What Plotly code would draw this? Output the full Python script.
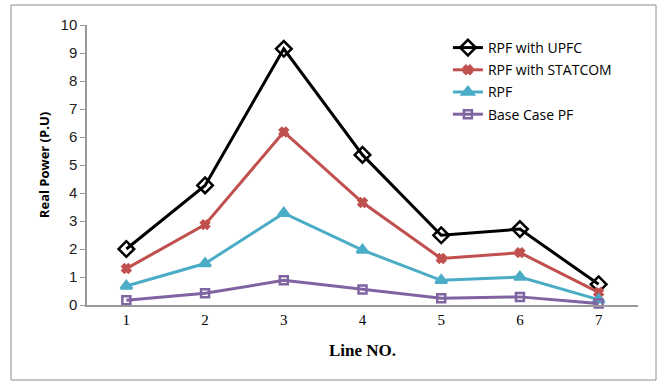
import plotly.graph_objects as go

lines = [1, 2, 3, 4, 5, 6, 7]
upfc = [2.0, 4.27, 9.15, 5.36, 2.49, 2.71, 0.74]
statcom = [1.3, 2.87, 6.18, 3.66, 1.66, 1.87, 0.45]
rpf = [0.68, 1.48, 3.28, 1.96, 0.88, 1.0, 0.19]
base = [0.17, 0.42, 0.88, 0.55, 0.24, 0.29, 0.05]

names = ["RPF with UPFC", "RPF with STATCOM", "RPF", "Base Case PF"]
colors = ["#000000", "#C0504D", "#4BACC6", "#8064A2"]
symbols = ["diamond-open", "x", "triangle-up", "square-open"]
sizes = [12, 7, 10, 8]
series = [upfc, statcom, rpf, base]

fig = go.Figure()
for i, (nm, c, s, sz, ys) in enumerate(zip(names, colors, symbols, sizes, series)):
    fig.add_trace(go.Scatter(
        x=lines, y=ys, name=nm, mode="lines+markers", legendgroup=f"g{i}",
        line=dict(color=c, width=3),
        marker=dict(symbol=s, size=sz, color=c, line=dict(color=c, width=2.5)),
        cliponaxis=False,
    ))

L, R, T, B = 87, 27, 25, 78
W, H = 665, 383
pw, ph = W - L - R, H - T - B

fig.update_layout(
    width=W, height=H,
    margin=dict(l=L, r=R, t=T, b=B),
    paper_bgcolor="white", plot_bgcolor="white",
    showlegend=True,
    legend=dict(x=0.655, y=0.975, xanchor="left", yanchor="top",
                font=dict(family="Open Sans, Liberation Sans, sans-serif", size=14, color="#000"),
                bgcolor="rgba(0,0,0,0)", tracegroupgap=1, itemwidth=30),
    xaxis=dict(range=[0.5, 7.5], tickvals=lines, ticktext=[str(v) for v in lines],
               showgrid=False, zeroline=False, showline=True, linecolor="#999", linewidth=1.5,
               ticks="", tickfont=dict(family="Liberation Serif, serif", size=15, color="#000"),
               title=dict(text="<b>Line NO.</b>", font=dict(family="Liberation Serif, serif", size=17, color="#000"), standoff=17)),
    yaxis=dict(range=[0, 10], tickvals=list(range(0, 11)), showgrid=False, zeroline=False,
               showline=True, linecolor="#999", linewidth=1.5, ticks="outside", ticklen=5, tickcolor="#999",
               tickfont=dict(family="Liberation Sans, sans-serif", size=15, color="#222"),
               title=dict(text="<b>Real Power (P.U)</b>", font=dict(family="Open Sans, Liberation Sans, sans-serif", size=13, color="#000"), standoff=8)),
    shapes=[dict(type="rect", xref="paper", yref="paper",
                 x0=(11 - L) / pw, x1=(656 - L) / pw,
                 y0=(H - B - 380) / ph, y1=(H - B - 5) / ph,
                 line=dict(color="#8c8c8c", width=1), fillcolor="rgba(0,0,0,0)", layer="below")],
)

fig.write_html("out.html")
